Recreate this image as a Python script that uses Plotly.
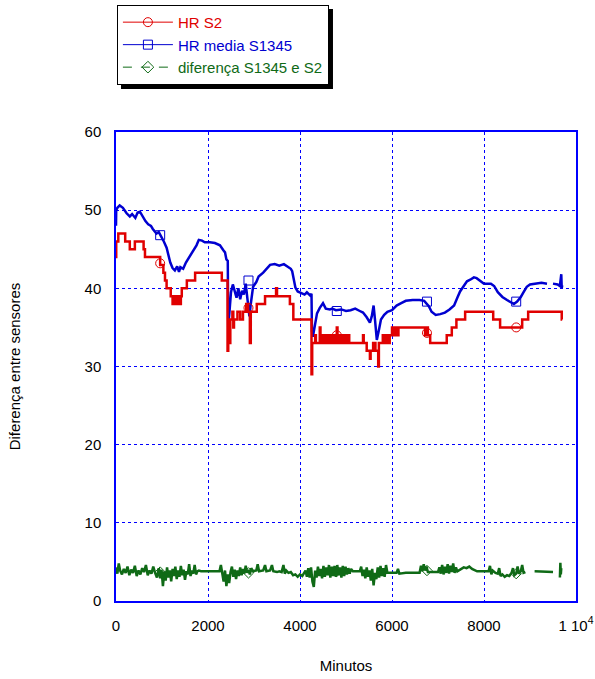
import plotly.graph_objects as go

# ---------------- data ----------------
red_x = [0, 5, 50, 200, 300, 410, 600, 630, 960, 1030, 1065, 1100, 1190, 1230, 1250, 1280, 1300, 1330, 1350,
         1390, 1410, 1430, 1540, 1720, 2300, 2425, 2440, 2455, 2470, 2485, 2530, 2550, 2565, 2640, 2700,
         2760, 2830, 2870, 2910, 2930, 3060, 3240, 3480, 3500, 3780, 3855, 4250, 4265, 4330, 4345, 4430,
         4445, 4470, 4500, 4520, 4550, 4570, 4600, 4615, 4650, 4665, 4700, 4710, 4750, 4770, 4800, 4815,
         4850, 4865, 4900, 4915, 4950, 4965, 5000, 5015, 5050, 5070, 5370, 5385, 5450, 5520, 5535, 5590,
         5640, 5700, 5715, 5800, 5815, 5850, 5870, 5900, 5925, 5950, 6000, 6015, 6050, 6065, 6100, 6115,
         6140, 6720, 6760, 6780, 6830, 7190, 7300, 7400, 7590, 8200, 8350, 8830, 8960, 9690, 9700]
red_y = [44, 46, 47, 46, 45, 46, 45, 44, 43, 42, 41, 40, 39, 38, 39, 38, 39, 38, 39,
         38, 39, 40, 41, 42, 41, 32, 33, 36, 33, 36, 37, 35, 36, 37, 36,
         37, 38, 37, 33, 37, 38, 39, 40, 39, 38, 36, 29, 33, 34, 33, 35,
         34, 33, 34, 33, 34, 33, 34, 33, 34, 33, 34, 33, 34, 33, 35, 33,
         34, 33, 34, 33, 34, 33, 34, 33, 34, 33, 34, 33, 32, 31, 32, 33,
         32, 30, 33, 34, 33, 34, 33, 34, 33, 34, 35, 34, 35, 34, 35, 34,
         35, 34, 35, 34, 33, 34, 35, 36, 37, 36, 35, 36, 37, 36, 36]

blue_x = [0, 5, 30, 80, 150, 230, 300, 350, 420, 470, 520, 570, 640, 700, 760, 800, 850, 880, 930, 990,
          1040, 1100, 1150, 1180, 1230, 1280, 1330, 1370, 1400, 1460, 1520, 1610, 1700, 1750, 1800, 1870,
          1930, 2040, 2150, 2260, 2330, 2370, 2400, 2430, 2440, 2460, 2500, 2540, 2580, 2620, 2660, 2700,
          2740, 2780, 2820, 2860, 2900, 2930, 2980, 3050, 3100, 3200, 3300, 3350, 3450, 3550, 3650, 3720,
          3800, 3830, 3870, 3900, 3950, 4050, 4100, 4150, 4220, 4250, 4260, 4280, 4330, 4370, 4430, 4500,
          4560, 4650, 4700, 4780, 4900, 5000, 5100, 5200, 5300, 5370, 5450, 5520, 5560, 5600, 5630, 5670,
          5720, 5760, 5830, 5900, 6000, 6100, 6200, 6300, 6450, 6600, 6700, 6800, 6860, 6950, 7050, 7150,
          7250, 7350, 7420, 7480, 7560, 7630, 7700, 7780, 7840, 7920, 8000, 8150, 8220, 8300, 8400, 8500,
          8600, 8650, 8720, 8800, 8870, 8930, 9000, 9100, 9250, 9370, 9430, 9500, 9600, 9650, 9680, 9690,
          9700]
blue_y = [48.0, 50.0, 50.3, 50.6, 50.3, 49.6, 49.2, 49.5, 49.0, 49.7, 49.8, 49.3, 48.6, 48.2, 48.0, 47.6,
          47.3, 47.0, 47.2, 46.6, 46.0, 45.2, 44.0, 43.3, 42.6, 42.3, 42.8, 42.1, 42.7, 42.5, 43.3, 44.2,
          45.0, 45.5, 46.2, 46.1, 45.9, 45.9, 45.8, 45.5, 44.9, 44.6, 43.7, 43.5, 35.0, 36.5, 39.5, 40.5,
          39.5, 38.8, 40.0, 38.6, 39.7, 39.2, 40.6, 38.5, 36.4, 38.0, 40.2, 40.8, 41.5, 42.0, 42.7, 43.0,
          43.1, 42.9, 43.1, 42.8, 42.5, 42.2, 41.0, 40.1, 39.6, 39.3, 39.2, 39.5, 39.1, 39.3, 34.5, 33.8,
          35.5, 36.8, 37.5, 38.1, 37.4, 37.3, 37.4, 37.2, 37.3, 37.1, 37.2, 37.4, 37.1, 36.9, 36.3, 35.6,
          36.4, 37.8, 36.0, 33.4, 34.8, 36.0, 36.6, 37.0, 37.2, 37.8, 38.1, 38.4, 38.5, 38.5, 38.4, 37.7,
          37.0, 36.6, 36.7, 36.9, 37.3, 37.8, 38.8, 39.6, 40.3, 40.9, 41.1, 41.4, 41.3, 40.9, 40.6, 40.6,
          40.3, 39.5, 38.9, 38.5, 38.1, 38.0, 38.3, 38.9, 39.6, 40.2, 40.5, 40.6, 40.7, 40.6, None, 40.6,
          40.5, 40.3, 41.8, 40.0, 40.4]

green_x = [0, 30, 60, 90, 130, 170, 210, 250, 290, 330, 370, 410, 450, 490, 530, 570, 610, 650, 690, 730,
           770, 810, 850, 890, 930, 960, 990, 1020, 1050, 1080, 1110, 1140, 1170, 1200, 1230, 1260, 1290,
           1320, 1350, 1380, 1410, 1440, 1470, 1500, 1530, 1560, 1590, 1620, 1650, 1680, 1710, 1740, 1770,
           1800, 1850, 2250, 2280, 2310, 2340, 2370, 2400, 2430, 2460, 2490, 2520, 2550, 2580, 2610, 2640,
           2670, 2700, 2730, 2760, 2790, 2820, 2850, 2880, 2910, 2940, 2980, 3050, 3080, 3110, 3200, 3240,
           3270, 3350, 3390, 3420, 3500, 3550, 3600, 3640, 3670, 3700, 3750, 3800, 3850, 3900, 3950, 4000,
           4050, 4120, 4150, 4180, 4210, 4240, 4270, 4300, 4330, 4360, 4390, 4420, 4450, 4480, 4510, 4540,
           4570, 4600, 4630, 4660, 4690, 4720, 4750, 4780, 4810, 4840, 4870, 4900, 4930, 4960, 4990, 5020,
           5050, 5080, 5110, 5150, 5300, 5330, 5360, 5390, 5420, 5450, 5480, 5510, 5540, 5570, 5600, 5630,
           5660, 5690, 5720, 5750, 5780, 5810, 5840, 5870, 5900, 5950, 6100, 6130, 6160, 6300, 6600, 6630,
           6660, 6690, 6720, 6750, 6780, 7000, 7030, 7060, 7090, 7120, 7150, 7180, 7210, 7240, 7270, 7300,
           7330, 7360, 7390, 7420, 7500, 7560, 7620, 7680, 7740, 7800, 7850, 8100, 8130, 8160, 8190, 8250,
           8300, 8330, 8360, 8400, 8450, 8500, 8550, 8600, 8630, 8660, 8700, 8730, 8760, 8800, 8830, 8860,
           8900, 9000, 9100, 9500, 9540, 9650, 9660, 9670, 9680]
green_y = [4.3, 3.5, 4.8, 3.9, 3.4, 4.1, 3.6, 4.4, 3.3, 4.0, 3.6, 4.5, 3.2, 3.9, 3.4, 4.2, 3.7, 4.6, 3.3, 3.9,
           3.5, 4.4, 3.6, 3.0, 4.2, 2.9, 4.0, 1.9, 3.8, 2.6, 4.3, 3.0, 3.9, 2.5, 4.1, 3.2, 4.4,
           2.8, 3.9, 3.1, 4.5, 3.3, 4.0, 2.7, 3.8, 3.4, 4.7, 3.2, 3.9, 3.5, 4.6, 3.4, 3.8,
           3.9, 3.8, 3.8, 4.6, 3.6, 2.5, 3.9, 1.9, 3.4, 2.3, 3.7, 4.4, 3.1, 4.0, 2.8, 3.9,
           3.2, 4.3, 3.3, 4.1, 3.5, 4.5, 3.6, 4.0, 3.4, 4.2, 3.8, 3.9, 4.7, 3.8, 3.9, 4.6,
           3.8, 3.9, 4.6, 3.8, 3.7, 3.8, 3.7, 4.6, 3.5, 3.9, 3.6, 3.7, 3.3, 3.4, 3.1, 3.4,
           3.2, 3.9, 3.1, 4.2, 3.0, 4.3, 2.5, 1.8, 3.9, 3.0, 4.4, 3.2, 4.1, 2.9, 4.5, 3.1,
           4.3, 3.3, 4.6, 3.0, 4.4, 3.2, 4.5, 3.1, 4.6, 3.3, 4.3, 3.0, 4.5, 3.2, 4.4, 3.4,
           4.2, 3.5, 4.1, 3.8, 3.8, 4.4, 3.2, 4.0, 2.9, 4.3, 3.1, 3.9, 2.6, 4.1, 2.0, 3.6,
           2.8, 4.3, 3.0, 4.5, 3.2, 4.2, 3.1, 4.6, 3.6, 3.6, 3.6, 4.1, 3.5, 3.6, 3.6, 4.5,
           3.8, 4.7, 3.9, 4.4, 3.7, 3.7, 4.3, 3.5, 4.6, 3.4, 4.4, 3.6, 4.7, 3.5, 4.5, 3.7,
           4.8, 3.6, 4.3, 3.8, 4.1, 4.3, 4.2, 4.4, 4.1, 3.9, 3.8, 3.8, 4.5, 3.4, 3.9, 3.6,
           3.5, 4.2, 3.2, 3.4, 3.1, 3.3, 3.2, 3.6, 4.2, 3.3, 3.5, 4.4, 3.5, 3.8, 4.6, 3.6,
           3.7, None, 3.8, 3.7, None, 3.0, 4.9, 3.4, 4.2]

marker_x = [960, 2880, 4800, 6760, 8700]
red_marker_y = [43.2, 37.5, 34.0, 34.3, 35.0]
blue_marker_y = [46.8, 41.0, 37.1, 38.3, 38.3]
green_marker_y = [3.7, 3.6, 3.8, 3.9, 3.5]

series_names = ["HR S2", "HR media S1345", "diferença S1345 e S2"]
x_tickvals = [0, 2000, 4000, 6000, 8000, 10000]
x_ticktext = ["0", "2000", "4000", "6000", "8000", "1 10<sup>4</sup>"]
y_tickvals = [0, 10, 20, 30, 40, 50, 60]

# ---------------- style ----------------
RED = "#e00000"
BLUE = "#0000d0"
GREEN = "#0f6a16"
FONT = "Liberation Sans, Arial, sans-serif"

fig = go.Figure()

fig.add_trace(go.Scatter(x=green_x, y=green_y, mode="lines", line=dict(color=GREEN, width=2.5),
                         showlegend=False, hoverinfo="skip"))
fig.add_trace(go.Scatter(x=blue_x, y=blue_y, mode="lines", line=dict(color=BLUE, width=2.5),
                         showlegend=False, hoverinfo="skip"))
fig.add_trace(go.Scatter(x=red_x, y=red_y, mode="lines", line=dict(color=RED, width=2.5, shape="hv"),
                         showlegend=False, hoverinfo="skip"))

fig.add_trace(go.Scatter(x=marker_x, y=green_marker_y, mode="markers",
                         marker=dict(symbol="diamond-open", size=8, color=GREEN, line=dict(width=1)),
                         showlegend=False))
fig.add_trace(go.Scatter(x=marker_x, y=blue_marker_y, mode="markers",
                         marker=dict(symbol="square-open", size=9, color=BLUE, line=dict(width=1)),
                         showlegend=False))
fig.add_trace(go.Scatter(x=marker_x, y=red_marker_y, mode="markers",
                         marker=dict(symbol="circle-open", size=9, color=RED, line=dict(width=1)),
                         showlegend=False))

# legend entries
legend_specs = [
    (series_names[0], RED, "circle-open", "solid"),
    (series_names[1], BLUE, "square-open", "solid"),
    (series_names[2], GREEN, "diamond-open", "dash"),
]
for name, col, sym, dash in legend_specs:
    fig.add_trace(go.Scatter(
        x=[None], y=[None], mode="lines+markers",
        name=f'<span style="color:{col}">{name}</span>',
        line=dict(color=col, width=1, dash=dash),
        marker=dict(symbol=sym, size=9, color=col, line=dict(width=1)),
    ))

axis_common = dict(
    showline=True, linecolor="#0000ff", linewidth=1.5, mirror=True,
    showgrid=True, gridcolor="#0000ff", gridwidth=1, griddash="dot",
    zeroline=False, ticks="outside", ticklen=10, tickcolor="rgba(0,0,0,0)",
    tickfont=dict(family=FONT, size=15, color="black"),
)

fig.update_layout(
    width=595, height=679,
    margin=dict(l=116, r=19, t=132, b=78, autoexpand=False),
    paper_bgcolor="white", plot_bgcolor="white",
    font=dict(family=FONT, size=15, color="black"),
    xaxis=dict(range=[0, 10000], tickvals=x_tickvals, ticktext=x_ticktext,
               title=dict(text="Minutos", standoff=28, font=dict(family=FONT, size=15)),
               **axis_common),
    yaxis=dict(range=[0, 60], tickvals=y_tickvals,
               title=dict(text="Diferença entre sensores", standoff=60, font=dict(family=FONT, size=15)),
               **axis_common),
    legend=dict(x=0.002, y=1.271, xanchor="left", yanchor="top",
                bgcolor="white", bordercolor="black", borderwidth=1,
                font=dict(family=FONT, size=15), itemwidth=50,
                tracegroupgap=0),
    shapes=[dict(type="rect", xref="paper", yref="paper",
                 x0=0.0109, x1=0.4717, y0=1.0917, y1=1.2623,
                 fillcolor="black", line=dict(width=0), layer="above")],
    showlegend=True,
)

fig.write_html("out.html")
